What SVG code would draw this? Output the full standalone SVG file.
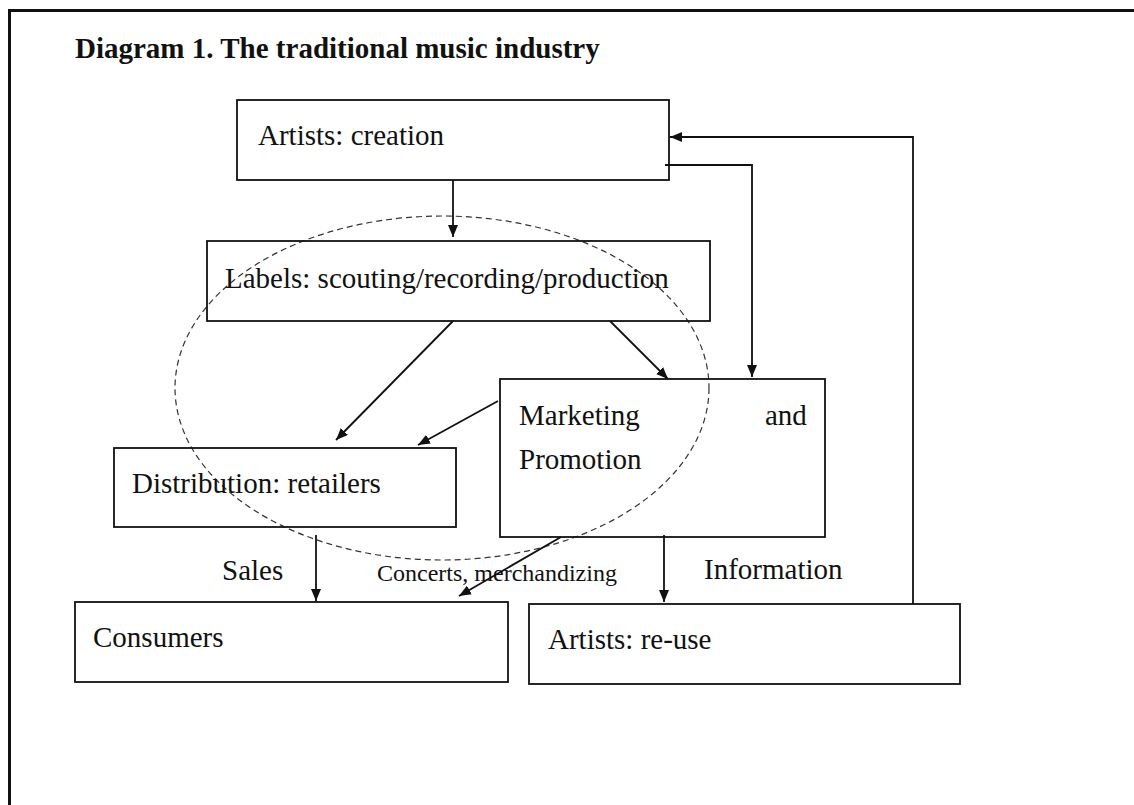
<svg xmlns="http://www.w3.org/2000/svg" width="1134" height="805" viewBox="0 0 1134 805">
  <style>
    .box { fill: none; stroke: #111; stroke-width: 1.8; }
    .t { font-family: "Liberation Serif", "Times New Roman", serif; font-size: 29px; fill: #111; }
    .small { font-size: 24px; }
    .title { font-family: "Liberation Serif", "Times New Roman", serif; font-size: 29px; font-weight: bold; fill: #111; }
    .edge { fill: none; stroke: #111; stroke-width: 1.8; }
  </style>
  <defs>
    <marker id="arrow" viewBox="0 0 12 10" refX="12" refY="5" markerWidth="12" markerHeight="10" markerUnits="userSpaceOnUse" orient="auto">
      <path d="M0,0 L12,5 L0,10 z" fill="#111"/>
    </marker>
  </defs>

  <rect width="1134" height="805" fill="#fff"/>

  <!-- page frame -->
  <path d="M9.5,805 V10.5 H1134" fill="none" stroke="#111" stroke-width="3"/>

  <text class="title" x="75" y="58">Diagram 1. The traditional music industry</text>

  <!-- dashed scope ellipse around labels / marketing -->
  <ellipse cx="442" cy="388" rx="267" ry="172" fill="none" stroke="#333" stroke-width="1.2" stroke-dasharray="6,4"/>

  <g id="artists-creation">
    <rect class="box" x="237" y="100" width="432" height="80"/>
    <text class="t" x="258" y="145">Artists: creation</text>
  </g>

  <g id="labels">
    <rect class="box" x="207" y="241" width="503" height="80"/>
    <text class="t" x="225" y="288">Labels: scouting/recording/production</text>
  </g>

  <g id="distribution">
    <rect class="box" x="114" y="448" width="342" height="79"/>
    <text class="t" x="132" y="493">Distribution: retailers</text>
  </g>

  <g id="marketing">
    <rect class="box" x="500" y="379" width="325" height="158"/>
    <text class="t" x="519" y="425">Marketing</text>
    <text class="t" x="765" y="425">and</text>
    <text class="t" x="519" y="469">Promotion</text>
  </g>

  <g id="consumers">
    <rect class="box" x="75" y="602" width="433" height="80"/>
    <text class="t" x="93" y="647">Consumers</text>
  </g>

  <g id="artists-reuse">
    <rect class="box" x="529" y="604" width="431" height="80"/>
    <text class="t" x="548" y="649">Artists: re-use</text>
  </g>

  <g id="connectors">
    <line class="edge" x1="453" y1="180" x2="453" y2="237" marker-end="url(#arrow)"/>
    <line class="edge" x1="453" y1="321" x2="336" y2="440" marker-end="url(#arrow)"/>
    <line class="edge" x1="610" y1="321" x2="668" y2="379" marker-end="url(#arrow)"/>
    <line class="edge" x1="498" y1="401" x2="418" y2="445" marker-end="url(#arrow)"/>
    <polyline class="edge" points="665,165 752,165 752,377" marker-end="url(#arrow)"/>
    <polyline class="edge" points="913,604 913,137 670,137" marker-end="url(#arrow)"/>
    <line class="edge" x1="316" y1="535" x2="316" y2="601" marker-end="url(#arrow)"/>
    <line class="edge" x1="561" y1="537" x2="459" y2="596" marker-end="url(#arrow)"/>
    <line class="edge" x1="664" y1="535" x2="664" y2="602" marker-end="url(#arrow)"/>

    <text class="t" x="222" y="580">Sales</text>
    <text class="t small" x="377" y="581">Concerts, merchandizing</text>
    <text class="t" x="704" y="579">Information</text>
  </g>
</svg>
